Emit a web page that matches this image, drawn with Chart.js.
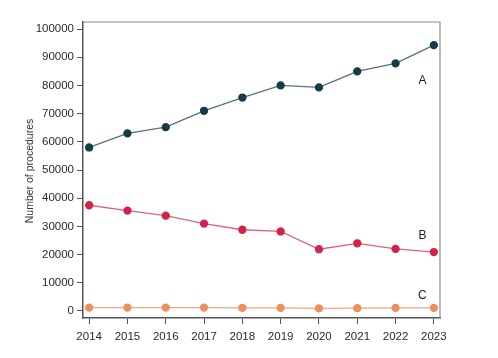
<!DOCTYPE html>
<html>
<head>
<meta charset="utf-8">
<script src="https://cdn.jsdelivr.net/npm/chart.js@4"></script>
<style>
  html, body { margin: 0; padding: 0; background: #fff; }
  #wrap { width: 498px; height: 358px; }
</style>
</head>
<body>
<div id="wrap"><canvas id="chart" width="498" height="358"></canvas></div>
<script>
// procedures per year
const years = [2014, 2015, 2016, 2017, 2018, 2019, 2020, 2021, 2022, 2023];
const seriesA = [58000, 63000, 65200, 71000, 75700, 80000, 79300, 85000, 87800, 94300];
const seriesB = [37500, 35600, 33800, 31000, 28800, 28200, 21900, 24000, 22000, 20900];
const seriesC = [1200, 1200, 1200, 1200, 1100, 1100, 900, 1000, 1100, 1100];
const yTicks = [0, 10000, 20000, 30000, 40000, 50000, 60000, 70000, 80000, 90000, 100000];
const seriesNames = ["A", "B", "C"];

const pts = (vals) => vals.map((v, i) => ({ x: years[i], y: v }));
const FONT = "'Liberation Sans', Arial, sans-serif";

// box border + series letters + y title
const decor = {
  id: "decor",
  afterDraw(c) {
    const { ctx, chartArea: a, scales } = c;
    ctx.save();
    ctx.strokeStyle = "#8a8a8a"; ctx.lineWidth = 1.2;
    ctx.beginPath();
    ctx.moveTo(a.left, a.top); ctx.lineTo(a.right, a.top); ctx.lineTo(a.right, a.bottom);
    ctx.stroke();
    ctx.fillStyle = "#1e1e1e"; ctx.font = "12px " + FONT;
    ctx.textAlign = "center"; ctx.textBaseline = "middle";
    const lx = scales.x.getPixelForValue(2022.7);
    const ly = [81, 236, 296];
    seriesNames.forEach((n, i) => ctx.fillText(n, lx, ly[i]));
    ctx.translate(30, 171); ctx.rotate(-Math.PI / 2);
    ctx.fillStyle = "#333"; ctx.font = "10.5px " + FONT;
    ctx.fillText("Number of procedures", 0, 0);
    ctx.restore();
  },
};

const ds = (label, vals, line, dot) => ({
  label, data: pts(vals), borderColor: line, backgroundColor: dot,
  pointBackgroundColor: dot, pointBorderColor: dot, pointRadius: 3.5, borderWidth: 1.3, tension: 0,
});

new Chart(document.getElementById("chart"), {
  type: "line",
  data: { datasets: [
    ds("A", seriesA, "#56737a", "#143c45"),
    ds("B", seriesB, "#e2607c", "#d4234a"),
    ds("C", seriesC, "#f2a987", "#ee8f5d"),
  ] },
  options: {
    responsive: false, animation: false,
    layout: { padding: { left: 0, right: 58, top: 22, bottom: 0 } },
    plugins: { legend: { display: false }, tooltip: { enabled: false } },
    scales: {
      x: {
        type: "linear", min: 2013.84, max: 2023.16,
        afterBuildTicks: (s) => { s.ticks = years.map((v) => ({ value: v })); },
        afterFit: (s) => { s.height = 40; },
        grid: { drawOnChartArea: false, tickLength: 6, color: "#555" },
        border: { color: "#555", width: 1.5 },
        ticks: { color: "#2a2a2a", font: { family: FONT, size: 11.5 }, padding: 6, autoSkip: false, maxRotation: 0,
          callback: (v) => String(v) },
      },
      y: {
        min: -2500, max: 102500,
        afterBuildTicks: (s) => { s.ticks = yTicks.map((v) => ({ value: v })); },
        afterFit: (s) => { s.width = 83; },
        grid: { drawOnChartArea: false, tickLength: 6, color: "#555" },
        border: { color: "#555", width: 1.5 },
        ticks: { color: "#2a2a2a", font: { family: FONT, size: 11.5 }, padding: 3, callback: (v) => String(v) },
      },
    },
  },
  plugins: [decor],
});
</script>
</body>
</html>
